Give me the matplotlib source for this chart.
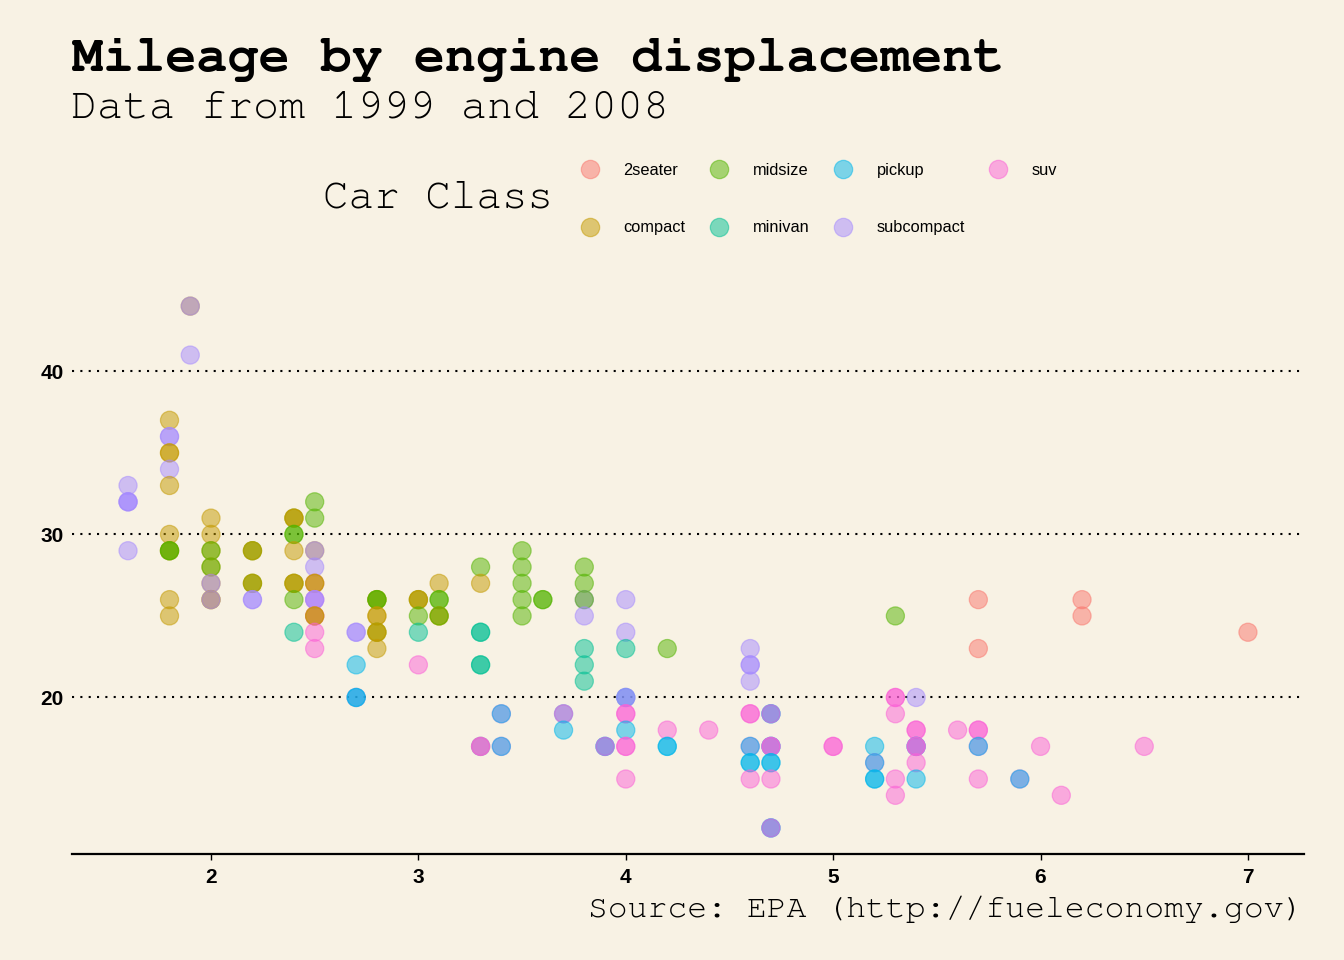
import matplotlib
matplotlib.use('Agg')
import matplotlib.pyplot as plt
from matplotlib.lines import Line2D
from matplotlib import font_manager

# ---------------- data ----------------
displ = [
    1.6, 1.6, 1.6, 1.6, 1.6,
    1.8, 1.8, 1.8, 1.8, 1.8, 1.8, 1.8, 1.8, 1.8, 1.8, 1.8, 1.8, 1.8, 1.8,
    1.9, 1.9, 1.9,
    2.0, 2.0, 2.0, 2.0, 2.0, 2.0, 2.0, 2.0, 2.0, 2.0, 2.0,
    2.2, 2.2, 2.2, 2.2, 2.2, 2.2, 2.2, 2.2,
    2.4, 2.4, 2.4, 2.4, 2.4, 2.4, 2.4, 2.4, 2.4, 2.4, 2.4,
    2.5, 2.5, 2.5, 2.5, 2.5, 2.5, 2.5, 2.5, 2.5, 2.5, 2.5, 2.5, 2.5, 2.5, 2.5, 2.5, 2.5,
    2.7, 2.7, 2.7, 2.7, 2.7, 2.7,
    2.8, 2.8, 2.8, 2.8, 2.8, 2.8, 2.8, 2.8, 2.8, 2.8,
    3.0, 3.0, 3.0, 3.0, 3.0, 3.0,
    3.1, 3.1, 3.1, 3.1, 3.1, 3.1,
    3.3, 3.3, 3.3, 3.3, 3.3, 3.3, 3.3, 3.3, 3.3,
    3.4, 3.4, 3.4, 3.4,
    3.5, 3.5, 3.5, 3.5, 3.5,
    3.6, 3.6,
    3.7, 3.7, 3.7,
    3.8, 3.8, 3.8, 3.8, 3.8, 3.8, 3.8, 3.8,
    3.9, 3.9, 3.9,
    4.0, 4.0, 4.0, 4.0, 4.0, 4.0, 4.0, 4.0, 4.0, 4.0, 4.0, 4.0,
    4.2, 4.2, 4.2, 4.2,
    4.4,
    4.6, 4.6, 4.6, 4.6, 4.6, 4.6, 4.6, 4.6, 4.6, 4.6, 4.6,
    4.7, 4.7, 4.7, 4.7, 4.7, 4.7, 4.7, 4.7, 4.7, 4.7, 4.7, 4.7, 4.7,
    5.0, 5.0,
    5.2, 5.2, 5.2, 5.2, 5.2,
    5.3, 5.3, 5.3, 5.3, 5.3, 5.3,
    5.4, 5.4, 5.4, 5.4, 5.4, 5.4, 5.4, 5.4, 5.4,
    5.6,
    5.7, 5.7, 5.7, 5.7, 5.7, 5.7, 5.7,
    5.9, 5.9,
    6.0, 6.1, 6.2, 6.2, 6.5, 7.0,
]

hwy = [
    33, 32, 32, 32, 29,
    37, 36, 36, 35, 35, 34, 33, 30, 29, 29, 29, 29, 26, 25,
    44, 44, 41,
    31, 30, 29, 29, 28, 28, 27, 27, 26, 26, 26,
    29, 29, 29, 27, 27, 27, 26, 26,
    31, 31, 31, 30, 30, 29, 27, 27, 27, 26, 24,
    32, 31, 29, 29, 28, 27, 27, 27, 26, 26, 26, 25, 25, 25, 25, 24, 23,
    24, 24, 22, 20, 20, 20,
    26, 26, 26, 26, 25, 25, 24, 24, 24, 23,
    26, 26, 26, 25, 24, 22,
    27, 26, 26, 25, 25, 25,
    28, 27, 24, 24, 22, 22, 17, 17, 17,
    19, 19, 17, 17,
    29, 28, 27, 26, 25,
    26, 26,
    19, 19, 18,
    28, 27, 26, 26, 25, 23, 22, 21,
    17, 17, 17,
    26, 24, 23, 20, 20, 20, 19, 19, 18, 17, 17, 15,
    23, 18, 17, 17,
    18,
    23, 22, 22, 21, 19, 19, 17, 17, 16, 16, 15,
    19, 19, 19, 17, 17, 17, 17, 16, 16, 15, 12, 12, 12,
    17, 17,
    17, 16, 16, 15, 15,
    25, 20, 20, 19, 15, 14,
    20, 18, 18, 17, 17, 17, 17, 16, 15,
    18,
    26, 23, 18, 18, 17, 17, 15,
    15, 15,
    17, 14, 26, 25, 17, 24,
]

car_class = [
    'subcompact', 'subcompact', 'subcompact', 'subcompact', 'subcompact',
    'compact', 'subcompact', 'subcompact', 'compact', 'compact', 'subcompact', 'compact',
    'compact', 'compact', 'compact', 'midsize', 'midsize', 'compact', 'compact',
    'compact', 'subcompact', 'subcompact',
    'compact', 'compact', 'compact', 'midsize', 'compact', 'midsize', 'compact', 'subcompact',
    'compact', 'compact', 'subcompact',
    'compact', 'midsize', 'compact', 'compact', 'midsize', 'compact', 'subcompact', 'subcompact',
    'midsize', 'compact', 'compact', 'midsize', 'midsize', 'compact', 'midsize', 'compact',
    'compact', 'midsize', 'minivan',
    'midsize', 'midsize', 'compact', 'subcompact', 'subcompact', 'suv', 'compact', 'compact',
    'suv', 'subcompact', 'subcompact', 'suv', 'suv', 'compact', 'compact', 'suv', 'suv',
    'subcompact', 'subcompact', 'pickup', 'suv', 'pickup', 'pickup',
    'compact', 'compact', 'midsize', 'midsize', 'compact', 'compact', 'midsize', 'compact',
    'compact', 'compact',
    'midsize', 'compact', 'compact', 'midsize', 'minivan', 'suv',
    'compact', 'midsize', 'midsize', 'compact', 'compact', 'midsize',
    'midsize', 'compact', 'minivan', 'minivan', 'minivan', 'minivan', 'minivan', 'suv', 'suv',
    'suv', 'pickup', 'suv', 'pickup',
    'midsize', 'midsize', 'midsize', 'midsize', 'midsize',
    'midsize', 'midsize',
    'pickup', 'suv', 'pickup',
    'midsize', 'midsize', 'subcompact', 'midsize', 'subcompact', 'minivan', 'minivan', 'minivan',
    'pickup', 'pickup', 'suv',
    'subcompact', 'subcompact', 'minivan', 'suv', 'pickup', 'subcompact', 'suv', 'suv',
    'pickup', 'suv', 'suv', 'suv',
    'midsize', 'suv', 'pickup', 'pickup',
    'suv',
    'subcompact', 'subcompact', 'subcompact', 'subcompact', 'suv', 'suv', 'suv', 'pickup',
    'pickup', 'pickup', 'suv',
    'pickup', 'pickup', 'suv', 'pickup', 'pickup', 'suv', 'suv', 'pickup', 'pickup', 'suv',
    'pickup', 'pickup', 'suv',
    'suv', 'suv',
    'pickup', 'suv', 'pickup', 'pickup', 'pickup',
    'midsize', 'suv', 'suv', 'suv', 'suv', 'suv',
    'subcompact', 'suv', 'suv', 'pickup', 'pickup', 'suv', 'suv', 'suv', 'pickup',
    'suv',
    '2seater', '2seater', 'suv', 'suv', 'suv', 'pickup', 'suv',
    'suv', 'pickup',
    'suv', 'suv', '2seater', '2seater', 'suv', '2seater',
]

classes = ['2seater', 'compact', 'midsize', 'minivan', 'pickup', 'subcompact', 'suv']
class_colors = ['#F8766D', '#C49A00', '#53B400', '#00C094', '#00B6EB', '#A58AFF', '#FB61D7']
y_ticks = [20, 30, 40]
x_ticks = [2, 3, 4, 5, 6, 7]

assert len(displ) == len(hwy) == len(car_class)

# ---------------- styling ----------------
BG = '#F8F2E4'
_installed = {f.name for f in font_manager.fontManager.ttflist}
MONO = next((f for f in ['Courier New', 'Nimbus Mono PS', 'FreeMono', 'Courier',
                         'Liberation Mono'] if f in _installed), 'DejaVu Sans Mono')
SANS = 'Liberation Sans'
ALPHA = 0.5

fig = plt.figure(figsize=(13.44, 9.6), dpi=100, facecolor=BG)
ax = fig.add_axes([0.0536, 0.1104, 0.9166, 0.5979])
ax.set_facecolor(BG)

cmap = dict(zip(classes, class_colors))
pt_colors = [cmap[c] for c in car_class]
ax.scatter(displ, hwy, s=170, c=pt_colors, alpha=ALPHA, edgecolors=pt_colors,
           linewidths=0.9, zorder=3)

# axes ranges (ggplot default 5% expansion)
xmin, xmax = min(displ), max(displ)
ymin, ymax = min(hwy), max(hwy)
xpad = (xmax - xmin) * 0.05
ypad = (ymax - ymin) * 0.05
ax.set_xlim(xmin - xpad, xmax + xpad)
ax.set_ylim(ymin - ypad, ymax + ypad)

for s in ['top', 'right', 'left']:
    ax.spines[s].set_visible(False)
ax.spines['bottom'].set_linewidth(1.6)
ax.spines['bottom'].set_color('black')

ax.set_xticks(x_ticks)
ax.set_yticks(y_ticks)
ax.tick_params(axis='x', length=4, width=1.0, color='black', pad=6)
ax.tick_params(axis='y', length=0, pad=6)
for lab in ax.get_xticklabels() + ax.get_yticklabels():
    lab.set_fontfamily(SANS)
    lab.set_fontweight('bold')
    lab.set_fontsize(15)
    lab.set_color('black')

ax.yaxis.grid(True, color='black', linestyle=(0, (1, 3)), linewidth=1.5, zorder=1)
ax.set_axisbelow(True)

# titles
fig.text(0.0535, 0.926, 'Mileage by engine displacement', fontfamily=MONO,
         fontweight='bold', fontsize=37.3, va='baseline', ha='left')
fig.text(0.053, 0.878, 'Data from 1999 and 2008', fontfamily=MONO,
         fontsize=31.2, va='baseline', ha='left')
fig.text(0.9702, 0.045, 'Source: EPA (http://fueleconomy.gov)', fontfamily=MONO,
         fontsize=23.9, va='baseline', ha='right')

# legend
fig.text(0.2403, 0.794, 'Car Class', fontfamily=MONO, fontsize=30.7,
         va='center', ha='left')
handles = [Line2D([], [], linestyle='none', marker='o', markersize=13.2,
                  markerfacecolor=col, markeredgecolor=col, alpha=ALPHA,
                  markeredgewidth=0.9)
           for col in class_colors]
leg = fig.legend(handles, classes, ncol=4, loc='center left',
                 bbox_to_anchor=(0.4315, 0.7925), frameon=False,
                 prop={'family': SANS, 'size': 11.8},
                 handlelength=1.2, handletextpad=1.45, columnspacing=1.45,
                 labelspacing=2.58, borderpad=0, borderaxespad=0)

fig.savefig('out.png', dpi=100, facecolor=BG)
